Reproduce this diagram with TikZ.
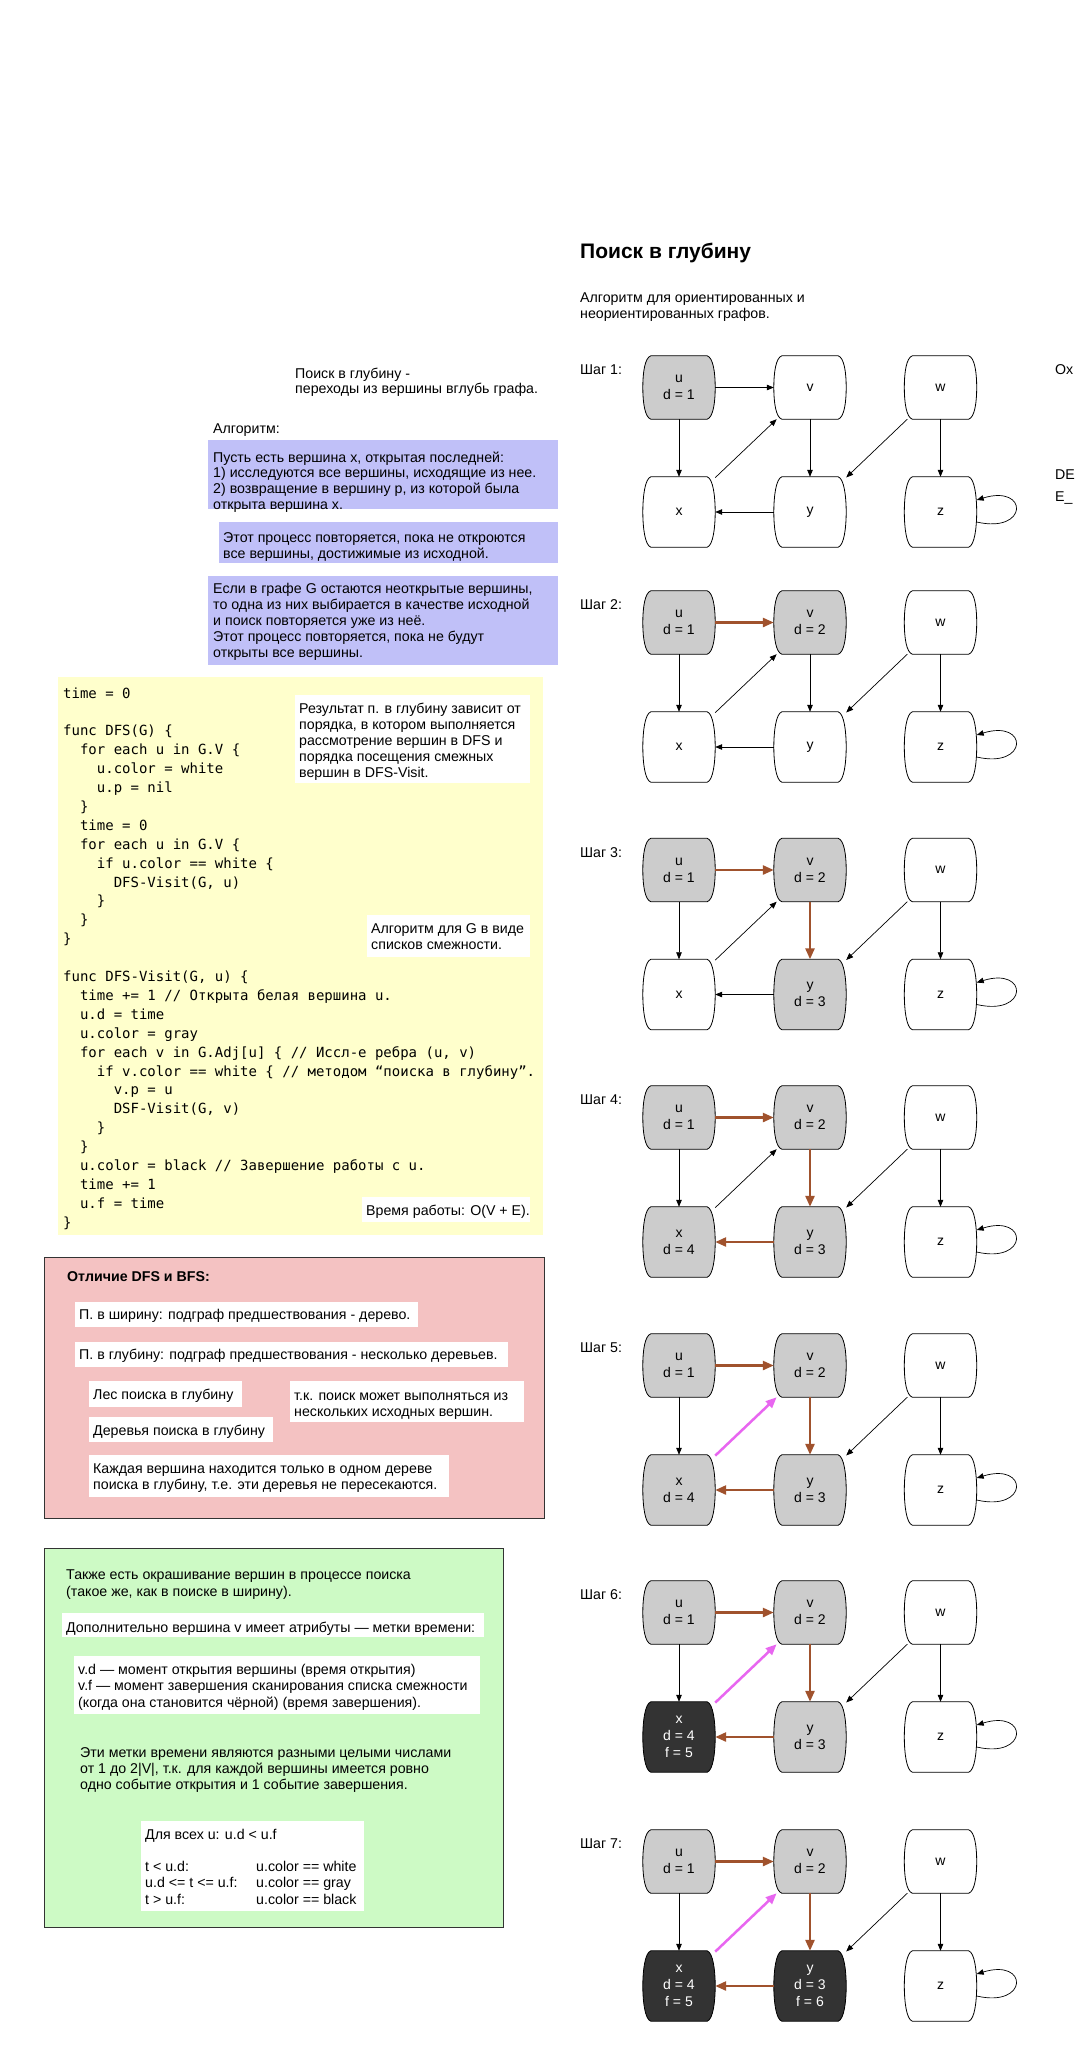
\documentclass[tikz,border=0pt]{standalone}
\usepackage{fontspec}
\setmainfont{Liberation Sans}
\setmonofont{DejaVu Sans Mono}
\usetikzlibrary{arrows.meta}
\pgfdeclarelayer{bg}
\pgfsetlayers{bg,main}
\definecolor{nodegray}{HTML}{CCCCCC}
\definecolor{nodedark}{HTML}{333333}
\definecolor{treebrown}{HTML}{A0522D}
\definecolor{backpink}{HTML}{E866F0}
\definecolor{lav}{HTML}{C0C0F8}
\definecolor{codey}{HTML}{FFFFCC}
\definecolor{pinkbg}{HTML}{F4C2C2}
\definecolor{greenbg}{HTML}{CDFAC5}
\definecolor{boxline}{HTML}{333333}
\tikzset{
  txt/.style={anchor=base west, inner sep=0pt, align=left, font=\fontsize{14.2pt}{16pt}\selectfont},
  gnode/.style={minimum width=72pt, minimum height=63pt, inner sep=0pt, align=center, font=\fontsize{14pt}{17pt}\selectfont},
  gnodebot/.style={gnode, minimum height=70pt},
  shw/.style={draw=black, line width=0.8pt, fill=white},
  shg/.style={draw=black, line width=0.8pt, fill=nodegray},
  shb/.style={draw=black, line width=0.8pt, fill=nodedark},
  thinedge/.style={draw=black, line width=0.7pt, -{Triangle[length=7pt,width=5.5pt]}},
  treeedge/.style={draw=treebrown, line width=2.5pt, -{Triangle[length=11pt,width=9pt]}},
  backedge/.style={draw=backpink, line width=2.5pt, -{Triangle[length=11pt,width=9pt]}},
  whitebox/.style={fill=white},
  panel/.style={draw=boxline, line width=0.8pt},
}
\newcommand\gshape[2]{%
  \draw[#2] ([xshift=8pt]#1.north west) -- ([xshift=-8pt]#1.north east)
    .. controls ([shift={(-2pt,-2pt)}]#1.north east) and ([yshift=15pt]#1.east) .. (#1.east)
    .. controls ([yshift=-15pt]#1.east) and ([shift={(-2pt,2pt)}]#1.south east) .. ([xshift=-8pt]#1.south east)
    -- ([xshift=8pt]#1.south west)
    .. controls ([shift={(2pt,2pt)}]#1.south west) and ([yshift=-15pt]#1.west) .. (#1.west)
    .. controls ([yshift=15pt]#1.west) and ([shift={(2pt,-2pt)}]#1.north west) .. cycle;}
\newcommand\placenodes[8]{%
  \node[txt,anchor=west] (lab#1) at (580,#2+14) {Шаг #1:};
  \node[gnode] (u#1) at (679,#2+31.5) {#3};
  \node[gnode] (v#1) at (810,#2+31.5) {#4};
  \node[gnode] (w#1) at (940.5,#2+31.5) {w};
  \node[gnodebot,text=#7] (x#1) at (679,#2+156) {#5};
  \node[gnodebot,text=#8] (y#1) at (810,#2+156) {#6};
  \node[gnodebot] (z#1) at (940.5,#2+156) {z};
  \draw[thinedge] (u#1) -- (x#1);
  \draw[thinedge] (w#1) -- (y#1);
  \draw[thinedge] (w#1) -- (z#1);
  \draw[thinedge] ([yshift=-10pt]z#1.east) .. controls ([shift={(52pt,-22pt)}]z#1.east) and ([shift={(52pt,28pt)}]z#1.east) .. ([yshift=12pt]z#1.east);
}
\newcommand\placeshapes[5]{%
  \begin{pgfonlayer}{bg}
  \gshape{u#1}{#2}\gshape{v#1}{#3}\gshape{w#1}{shw}%
  \gshape{x#1}{#4}\gshape{y#1}{#5}\gshape{z#1}{shw}%
  \end{pgfonlayer}}
\begin{document}
\begin{tikzpicture}[x=1pt,y=-1pt]
\path[use as bounding box] (0,0) rectangle (1074,2048);
\begin{pgfonlayer}{bg}
\fill[white] (0,0) rectangle (1074,2048);
\end{pgfonlayer}
\clip (0,0) rectangle (1074,2048);

% ---------- right column: title ----------
% (multi-line nodes are placed at the baseline of their last line)
\node[txt, font=\bfseries\fontsize{21pt}{24pt}\selectfont] (title) at (580,258) {Поиск в глубину};
\node[txt] (intro) at (580,318) {Алгоритм для ориентированных и\\неориентированных графов.};
\node[txt] (cut1) at (1055,374) {Ох};
\node[txt] (cut2) at (1055,479) {DE};
\node[txt] (cut3) at (1055,501) {E\_};

% ---------- left column: description ----------
\node[txt, font=\fontsize{14.2pt}{15.5pt}\selectfont] (def) at (295,393.5) {Поиск в глубину -\\переходы из вершины вглубь графа.};
\node[txt] (alg) at (213,433) {Алгоритм:};
\fill[lav] (208,440) rectangle (558,509);
\node[txt, font=\fontsize{14.2pt}{15.7pt}\selectfont] (b1) at (213,509.1) {Пусть есть вершина x, открытая последней:\\1) исследуются все вершины, исходящие из нее.\\2) возвращение в вершину p, из которой была\\открыта вершина x.};
\fill[lav] (219,522) rectangle (558,563);
\node[txt] (b2) at (223,558) {Этот процесс повторяется, пока не откроются\\все вершины, достижимые из исходной.};
\fill[lav] (208,576) rectangle (558,665);
\node[txt, font=\fontsize{14.2pt}{16.2pt}\selectfont] (b3) at (213,657.8) {Если в графе G остаются неоткрытые вершины,\\то одна из них выбирается в качестве исходной\\и поиск повторяется уже из неё.\\Этот процесс повторяется, пока не будут\\открыты все вершины.};

% ---------- code ----------
\fill[codey] (58,677) rectangle (543,1235);
\node[anchor=base west, inner sep=0pt, align=left, font=\ttfamily\fontsize{14pt}{18.9pt}\selectfont] (code) at (63,1227.2) {%
time = 0\\
\mbox{}\\
func DFS(G) \{\\
\hphantom{00}for each u in G.V \{\\
\hphantom{0000}u.color = white\\
\hphantom{0000}u.p = nil\\
\hphantom{00}\}\\
\hphantom{00}time = 0\\
\hphantom{00}for each u in G.V \{\\
\hphantom{0000}if u.color == white \{\\
\hphantom{000000}DFS-Visit(G, u)\\
\hphantom{0000}\}\\
\hphantom{00}\}\\
\}\\
\mbox{}\\
func DFS-Visit(G, u) \{\\
\hphantom{00}time += 1 // Открыта белая вершина u.\\
\hphantom{00}u.d = time\\
\hphantom{00}u.color = gray\\
\hphantom{00}for each v in G.Adj[u] \{ // Иссл-е ребра (u, v)\\
\hphantom{0000}if v.color == white \{ // методом “поиска в глубину”.\\
\hphantom{000000}v.p = u\\
\hphantom{000000}DSF-Visit(G, v)\\
\hphantom{0000}\}\\
\hphantom{00}\}\\
\hphantom{00}u.color = black // Завершение работы с u.\\
\hphantom{00}time += 1\\
\hphantom{00}u.f = time\\
\}};
\fill[whitebox] (295,695) rectangle (530,783);
\node[txt, font=\fontsize{14.2pt}{16.1pt}\selectfont] (n1) at (299,777.4) {Результат п. в глубину зависит от\\порядка, в котором выполняется\\рассмотрение вершин в DFS и\\порядка посещения смежных\\вершин в DFS-Visit.};
\fill[whitebox] (367,915) rectangle (530,957);
\node[txt] (n2) at (371,949) {Алгоритм для G в виде\\списков смежности.};
\fill[whitebox] (362,1197) rectangle (530,1222);
\node[txt] (n3) at (366,1215) {Время работы: O(V + E).};

% ---------- pink panel ----------
\filldraw[panel, fill=pinkbg] (44,1257) rectangle (544,1518);
\node[txt, font=\bfseries\fontsize{14.2pt}{16pt}\selectfont] (p0) at (67,1281) {Отличие DFS и BFS:};
\fill[whitebox] (75,1302) rectangle (418,1327);
\node[txt] (p1) at (79,1319) {П. в ширину: подграф предшествования - дерево.};
\fill[whitebox] (75,1342) rectangle (508,1367);
\node[txt] (p2) at (79,1359) {П. в глубину: подграф предшествования - несколько деревьев.};
\fill[whitebox] (89,1381) rectangle (242,1407);
\node[txt] (p3) at (93,1399) {Лес поиска в глубину};
\fill[whitebox] (290,1381) rectangle (524,1422);
\node[txt] (p4) at (294,1416) {т.к. поиск может выполняться из\\нескольких исходных вершин.};
\fill[whitebox] (89,1417) rectangle (273,1442);
\node[txt] (p5) at (93,1435) {Деревья поиска в глубину};
\fill[whitebox] (89,1455) rectangle (449,1497);
\node[txt] (p6) at (93,1489) {Каждая вершина находится только в одном дереве\\поиска в глубину, т.е. эти деревья не пересекаются.};

% ---------- green panel ----------
\filldraw[panel, fill=greenbg] (44,1548) rectangle (503,1927);
\node[txt, font=\fontsize{14.2pt}{17pt}\selectfont] (g1) at (66,1596) {Также есть окрашивание вершин в процессе поиска\\(такое же, как в поиске в ширину).};
\fill[whitebox] (62,1613) rectangle (484,1637);
\node[txt] (g2) at (66,1632) {Дополнительно вершина v имеет атрибуты — метки времени:};
\fill[whitebox] (74,1656) rectangle (480,1714);
\node[txt, font=\fontsize{14.2pt}{16.5pt}\selectfont] (g3) at (78,1707) {v.d — момент открытия вершины (время открытия)\\v.f — момент завершения сканирования списка смежности\\(когда она становится чёрной) (время завершения).};
\node[txt] (g4) at (80,1789) {Эти метки времени являются разными целыми числами\\от 1 до 2|V|, т.к. для каждой вершины имеется ровно\\одно событие открытия и 1 событие завершения.};
\fill[whitebox] (141,1821) rectangle (364,1911);
\node[txt] (g5) at (145,1839) {Для всех u: u.d < u.f};
\node[txt, font=\fontsize{14.2pt}{16.5pt}\selectfont] (g6) at (145,1904) {t < u.d:\\u.d <= t <= u.f:\\t > u.f:};
\node[txt, font=\fontsize{14.2pt}{16.5pt}\selectfont] (g7) at (256,1904) {u.color == white\\u.color == gray\\u.color == black};

% ---------- steps ----------
% Step 1
\placenodes{1}{356}{u\\d = 1}{v}{x}{y}{black}{black}
\draw[thinedge] (u1) -- (v1);
\draw[thinedge] (v1) -- (y1);
\draw[thinedge] (y1) -- (x1);
\draw[thinedge] (x1) -- (v1);
\placeshapes{1}{shg}{shw}{shw}{shw}
% Step 2
\placenodes{2}{591}{u\\d = 1}{v\\d = 2}{x}{y}{black}{black}
\draw[treeedge] (u2) -- (v2);
\draw[thinedge] (v2) -- (y2);
\draw[thinedge] (y2) -- (x2);
\draw[thinedge] (x2) -- (v2);
\placeshapes{2}{shg}{shg}{shw}{shw}
% Step 3
\placenodes{3}{838.5}{u\\d = 1}{v\\d = 2}{x}{y\\d = 3}{black}{black}
\draw[treeedge] (u3) -- (v3);
\draw[treeedge] (v3) -- (y3);
\draw[thinedge] (y3) -- (x3);
\draw[thinedge] (x3) -- (v3);
\placeshapes{3}{shg}{shg}{shw}{shg}
% Step 4
\placenodes{4}{1086}{u\\d = 1}{v\\d = 2}{x\\d = 4}{y\\d = 3}{black}{black}
\draw[treeedge] (u4) -- (v4);
\draw[treeedge] (v4) -- (y4);
\draw[treeedge] (y4) -- (x4);
\draw[thinedge] (x4) -- (v4);
\placeshapes{4}{shg}{shg}{shg}{shg}
% Step 5
\placenodes{5}{1334}{u\\d = 1}{v\\d = 2}{x\\d = 4}{y\\d = 3}{black}{black}
\draw[treeedge] (u5) -- (v5);
\draw[treeedge] (v5) -- (y5);
\draw[treeedge] (y5) -- (x5);
\draw[backedge] (x5) -- (v5);
\placeshapes{5}{shg}{shg}{shg}{shg}
% Step 6
\placenodes{6}{1581}{u\\d = 1}{v\\d = 2}{x\\d = 4\\f = 5}{y\\d = 3}{white}{black}
\draw[treeedge] (u6) -- (v6);
\draw[treeedge] (v6) -- (y6);
\draw[treeedge] (y6) -- (x6);
\draw[backedge] (x6) -- (v6);
\placeshapes{6}{shg}{shg}{shb}{shg}
% Step 7
\placenodes{7}{1830}{u\\d = 1}{v\\d = 2}{x\\d = 4\\f = 5}{y\\d = 3\\f = 6}{white}{white}
\draw[treeedge] (u7) -- (v7);
\draw[treeedge] (v7) -- (y7);
\draw[treeedge] (y7) -- (x7);
\draw[backedge] (x7) -- (v7);
\placeshapes{7}{shg}{shg}{shb}{shb}
\end{tikzpicture}
\end{document}
